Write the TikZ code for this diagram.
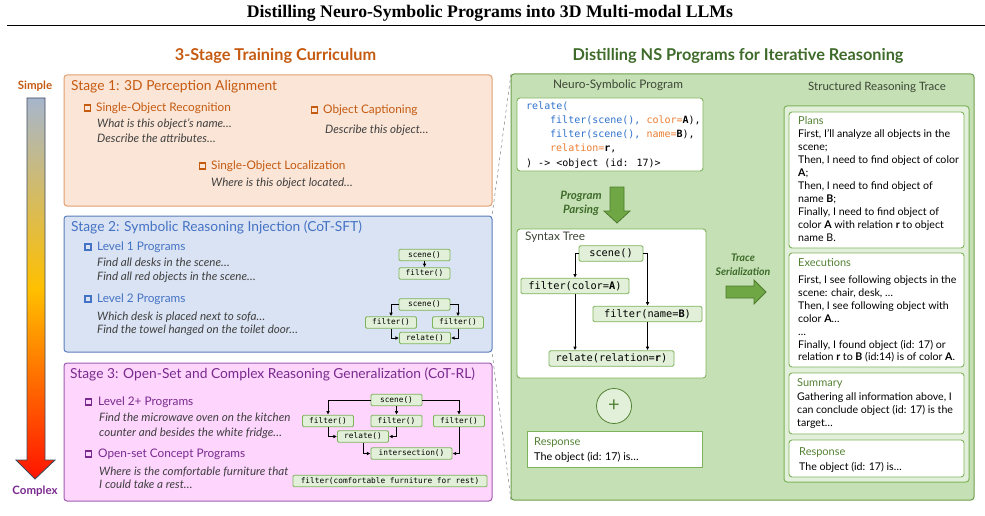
\documentclass[tikz,border=0pt]{standalone}
\usepackage{fontspec}
\setmainfont{Lato}
\newfontfamily\serifbf{Liberation Serif}
\newfontfamily\codefont{DejaVu Sans Mono}
\usetikzlibrary{arrows.meta}
\definecolor{sOne}{HTML}{C55A11}
\definecolor{sOneFill}{HTML}{FBE5D6}
\definecolor{sOneDraw}{HTML}{E0A070}
\definecolor{sTwo}{HTML}{4472C4}
\definecolor{sTwoFill}{HTML}{DAE3F3}
\definecolor{sTwoDraw}{HTML}{5A7DBB}
\definecolor{sThree}{HTML}{7A2A8E}
\definecolor{sThreeFill}{HTML}{FDD5FD}
\definecolor{sThreeDraw}{HTML}{A05CB0}
\definecolor{itgray}{HTML}{404040}
\definecolor{panelFill}{HTML}{C5E0B4}
\definecolor{panelDraw}{HTML}{6E9F4B}
\definecolor{lightFill}{HTML}{E2EFDA}
\definecolor{ngreen}{HTML}{7DB35A}
\definecolor{nfill}{HTML}{E2F0D9}
\definecolor{dgreen}{HTML}{548235}
\definecolor{hgreen}{HTML}{3E6B2A}
\definecolor{lblgray}{HTML}{3C4636}
\definecolor{codeblue}{HTML}{2F72CC}
\definecolor{codeorange}{HTML}{ED7D31}
\definecolor{arrFill}{HTML}{6FA744}
\definecolor{arrDraw}{HTML}{4E7A30}
\begin{document}
\begin{tikzpicture}[x=1pt,y=-1pt,
  boxn/.style={anchor=north west, inner sep=0pt, outer sep=0pt, rounded corners=3pt, line width=1pt},
  sqmark/.style={draw=#1, line width=1.3pt, minimum size=6.2pt, inner sep=0pt},
  stitle/.style={anchor=west, inner sep=0pt, font=\fontsize{13.8}{15}\selectfont, text height=9.7pt, text depth=1.3pt},
  ihead/.style={anchor=west, inner sep=0pt, font=\fontsize{11.8}{13}\selectfont, text height=8.3pt, text depth=1.2pt},
  itl/.style={anchor=west, inner sep=0pt, font=\fontsize{11.6}{13}\selectfont\itshape, text=itgray, text height=8.1pt, text depth=1.2pt},
  mini/.style={draw=ngreen, fill=nfill, line width=0.9pt, rounded corners=1.2pt, font=\codefont\fontsize{7.8}{9}\selectfont, minimum height=11.5pt, minimum width=51pt, inner sep=1pt},
  tnode/.style={draw=ngreen, fill=nfill, line width=0.9pt, rounded corners=1.5pt, font=\codefont\fontsize{10.3}{11}\selectfont, minimum height=15.5pt, inner sep=1pt},
  arr/.style={-{Latex[length=3.6pt,width=3.6pt]}, line width=0.7pt},
  codel/.style={anchor=west, inner sep=0pt, font=\codefont\fontsize{10}{12}\selectfont, text height=7pt, text depth=1pt},
  body/.style={anchor=north west, inner sep=0pt, align=left, font=\fontsize{10.6}{12.9}\selectfont},
  blabel/.style={anchor=west, inner sep=0pt, font=\fontsize{11}{12}\selectfont, text=dgreen, text height=7.7pt, text depth=1pt},
  whitebox/.style={boxn, draw=ngreen, fill=white, line width=0.9pt},
  dashl/.style={dashed, draw=gray, line width=0.5pt}
]
\useasboundingbox (0,0) rectangle (985,516);

% title
\node[inner sep=0pt, font=\serifbf\bfseries\fontsize{17.7}{20}\selectfont] (title) at (490,13) {Distilling Neuro-Symbolic Programs into 3D Multi-modal LLMs};
\coordinate (ruleL) at (7,25.5);
\coordinate (ruleR) at (985,25.5);
\draw[line width=1.6pt] (ruleL) -- (ruleR);

% headings
\node[inner sep=0pt, font=\bfseries\fontsize{16.3}{18}\selectfont, text=sOne] (hleft) at (275.5,56) {3-Stage Training Curriculum};
\node[inner sep=0pt, font=\bfseries\fontsize{16.3}{18}\selectfont, text=hgreen] (hright) at (738,56) {Distilling NS Programs for Iterative Reasoning};

% simple / complex arrow
\node[inner sep=0pt, font=\bfseries\fontsize{11.5}{12}\selectfont, text=sOne] (simple) at (35,86) {Simple};
\node[inner sep=0pt, font=\bfseries\fontsize{11.5}{12}\selectfont, text=sThree] (complex) at (35,491) {Complex};
\shade[draw={rgb,255:red,62;green,74;blue,94}, line width=0.9pt, top color={rgb,255:red,167;green,182;blue,204}, bottom color={rgb,255:red,255;green,20;blue,0}, middle color={rgb,255:red,255;green,192;blue,0}]
  (27,98) -- (45,98) -- (45,460) -- (55,460) -- (35,479) -- (16,460) -- (27,460) -- cycle;

% stage boxes
\node[boxn, draw=sOneDraw, fill=sOneFill, minimum width=428pt, minimum height=131pt] (st1) at (64,75) {};
\node[boxn, draw=sTwoDraw, fill=sTwoFill, minimum width=428pt, minimum height=136pt] (st2) at (64,216) {};
\node[boxn, draw=sThreeDraw, fill=sThreeFill, minimum width=428pt, minimum height=138pt] (st3) at (64,363) {};

% stage 1
\node[stitle, text=sOne] (t1) at (71,86) {Stage 1: 3D Perception Alignment};
\node[sqmark=sOne] (m11) at (87.5,108) {};
\node[ihead, text=sOne] (h11) at (96,108) {Single-Object Recognition};
\node[itl] (i111) at (97,124) {What is this object’s name…};
\node[itl] (i112) at (97,139) {Describe the attributes…};
\node[sqmark=sOne] (m12) at (314.5,110) {};
\node[ihead, text=sOne] (h12) at (323,110) {Object Captioning};
\node[itl] (i121) at (325,130) {Describe this object…};
\node[sqmark=sOne] (m13) at (202.5,166) {};
\node[ihead, text=sOne] (h13) at (211,166) {Single-Object Localization};
\node[itl] (i131) at (211,183) {Where is this object located…};

% stage 2
\node[stitle, text=sTwo] (t2) at (71,227) {Stage 2: Symbolic Reasoning Injection (CoT-SFT)};
\node[sqmark=sTwo] (m21) at (88,247) {};
\node[ihead, text=sTwo] (h21) at (97,247) {Level 1 Programs};
\node[itl] (i211) at (97,263) {Find all desks in the scene…};
\node[itl] (i212) at (97,277) {Find all red objects in the scene…};
\node[sqmark=sTwo] (m22) at (88,299) {};
\node[ihead, text=sTwo] (h22) at (97,299) {Level 2 Programs};
\node[itl] (i221) at (97,317) {Which desk is placed next to sofa…};
\node[itl] (i222) at (97,330) {Find the towel hanged on the toilet door…};

\node[mini] (a1) at (424.5,255) {scene()};
\node[mini] (a2) at (424.5,273.5) {filter()};
\draw[arr] (a1) -- (a2);
\node[mini] (b1) at (424.5,304.5) {scene()};
\node[mini] (b2) at (391,322.5) {filter()};
\node[mini] (b3) at (458,322.5) {filter()};
\node[mini] (b4) at (425,338) {relate()};
\draw[arr] (b1.west) -| (b2.north);
\draw[arr] (b1.east) -| (b3.north);
\draw[arr] (b2.south) |- (b4.west);
\draw[arr] (b3.south) |- (b4.east);

% stage 3
\node[stitle, text=sThree] (t3) at (70,374) {Stage 3: Open-Set and Complex Reasoning Generalization (CoT-RL)};
\node[sqmark=sThree] (m31) at (88.5,402) {};
\node[ihead, text=sThree] (h31) at (98,402) {Level 2+ Programs};
\node[itl] (i311) at (99,418) {Find the microwave oven on the kitchen};
\node[itl] (i312) at (99,433) {counter and besides the white fridge…};
\node[sqmark=sThree] (m32) at (88.5,454) {};
\node[ihead, text=sThree] (h32) at (98,454) {Open-set Concept Programs};
\node[itl] (i321) at (99,472) {Where is the comfortable furniture that};
\node[itl] (i322) at (99,485) {I could take a rest…};

\node[mini] (c1) at (396.5,400) {scene()};
\node[mini] (c2) at (328,421) {filter()};
\node[mini] (c3) at (396.5,421) {filter()};
\node[mini] (c4) at (459,421) {filter()};
\node[mini] (c5) at (363,436.5) {relate()};
\node[mini, minimum width=81pt] (c6) at (411.5,453.5) {intersection()};
\node[mini, minimum width=194pt] (c7) at (390,481) {filter(comfortable furniture for rest)};
\draw[arr] (c1.west) -| (c2.north);
\draw[arr] (c1.south) -- (c3.north);
\draw[arr] (c1.east) -| (c4.north);
\draw[arr] (c2.south) |- (c5.west);
\draw[arr] (c3.south) |- (c5.east);
\draw[arr] (c5.south) |- (c6.west);
\draw[arr] (c4.south) |- (c6.east);

% right panel
\node[boxn, draw=panelDraw, fill=panelFill, minimum width=463pt, minimum height=426pt] (panel) at (511,74) {};
\draw[dashl] (panel.north west) -- (st2.north east);
\draw[dashl] (panel.south west) -- (st2.south east);

\node[inner sep=0pt, font=\fontsize{11.8}{13}\selectfont, text=lblgray] (nsp) at (618,85) {Neuro-Symbolic Program};
\node[whitebox, minimum width=186pt, minimum height=73pt] (codebox) at (517,98) {};
\node[codel, text=codeblue] (cl1) at (526,107) {relate(};
\node[codel] (cl2) at (550,121) {\textcolor{codeblue}{filter(scene(), }\textcolor{codeorange}{color=}\textbf{A}),};
\node[codel] (cl3) at (550,135) {\textcolor{codeblue}{filter(scene(), }\textcolor{codeorange}{name=}\textbf{B}),};
\node[codel] (cl4) at (550,149) {\textcolor{codeorange}{relation=}\textbf{r},};
\node[codel] (cl5) at (526,163) {) -> <object (id: 17)>};

\node[inner sep=0pt, align=center, font=\bfseries\itshape\fontsize{11.5}{14}\selectfont, text=hgreen] (pp) at (581,203) {Program\\Parsing};
\draw[draw=arrDraw, fill=arrFill, line width=0.8pt] (610,187) -- (624,187) -- (624,211) -- (630,211) -- (617,223) -- (604,211) -- (610,211) -- cycle;

\node[whitebox, minimum width=189pt, minimum height=149pt] (stbox) at (517,229) {};
\node[anchor=west, inner sep=0pt, font=\fontsize{11.8}{13}\selectfont, text=lblgray] (stl) at (525,237) {Syntax Tree};
\node[tnode, minimum width=64pt] (n1) at (611,253.5) {scene()};
\node[tnode, minimum width=108pt] (n2) at (575,286) {filter(color=\textbf{A})};
\node[tnode, minimum width=109pt] (n3) at (647.5,314) {filter(name=\textbf{B})};
\node[tnode, minimum width=125pt] (n4) at (611.5,358.5) {relate(relation=\textbf{r})};
\draw[arr] (n1.west) -| (n2.north);
\draw[arr] (n1.east) -| (n3.north);
\draw[arr] (n2.south) -- (n2.south |- n4.north);
\draw[arr] (n3.south) -- (n3.south |- n4.north);

\node[circle, draw=dgreen, fill=nfill, line width=0.8pt, minimum size=35pt, inner sep=0pt, font=\fontsize{20}{20}\selectfont, text=dgreen] (plus) at (614,406) {+};

\node[boxn, draw=ngreen, fill=white, line width=0.9pt, rounded corners=0pt, minimum width=175pt, minimum height=36pt] (respL) at (527,431) {};
\node[blabel] (rl1) at (534,442) {Response};
\node[anchor=west, inner sep=0pt, font=\fontsize{10.8}{12}\selectfont] (rl2) at (534,457) {The object (id: 17) is…};

\node[inner sep=0pt, align=center, font=\bfseries\itshape\fontsize{10.5}{14.5}\selectfont, text=hgreen] (ts) at (743,264.5) {Trace\\Serialization};
\draw[draw=arrDraw, fill=arrFill, line width=0.8pt] (726,286) -- (754,286) -- (754,280) -- (766,292) -- (754,304) -- (754,298) -- (726,298) -- cycle;

% structured reasoning trace
\node[inner sep=0pt, font=\fontsize{11.5}{13}\selectfont, text=lblgray] (srt) at (877,87) {Structured Reasoning Trace};
\node[boxn, draw=ngreen, fill=lightFill, minimum width=185pt, minimum height=376pt] (lbox) at (784,106) {};

\node[whitebox, minimum width=175pt, minimum height=136pt] (pb) at (789,112) {};
\node[blabel] (pl) at (798,121) {Plans};
\node[body] (ptxt) at (798,129.5) {First, I'll analyze all objects in the\\scene;\\Then, I need to find object of color\\\textbf{A};\\Then, I need to find object of\\name \textbf{B};\\Finally, I need to find object of\\color \textbf{A} with relation \textbf{r} to object\\name B.};

\node[whitebox, minimum width=175pt, minimum height=114pt] (eb) at (789,253) {};
\node[blabel] (el) at (798,263) {Executions};
\node[body] (etxt) at (798,275.5) {First, I see following objects in the\\scene: chair, desk, …\\Then, I see following object with\\color \textbf{A}…\\…\\Finally, I found object (id: 17) or\\relation \textbf{r} to \textbf{B} (id:14) is of color \textbf{A}.};

\node[whitebox, minimum width=175pt, minimum height=61pt] (sb) at (789,373) {};
\node[blabel] (sl) at (797,383) {Summary};
\node[body] (stxt) at (797,392.5) {Gathering all information above, I\\can conclude object (id: 17) is the\\target…};

\node[whitebox, minimum width=175pt, minimum height=37pt] (rb) at (789,440) {};
\node[blabel] (rl) at (799,452) {Response};
\node[body] (rtxt) at (799,462.5) {The object (id: 17) is…};
\end{tikzpicture}
\end{document}
